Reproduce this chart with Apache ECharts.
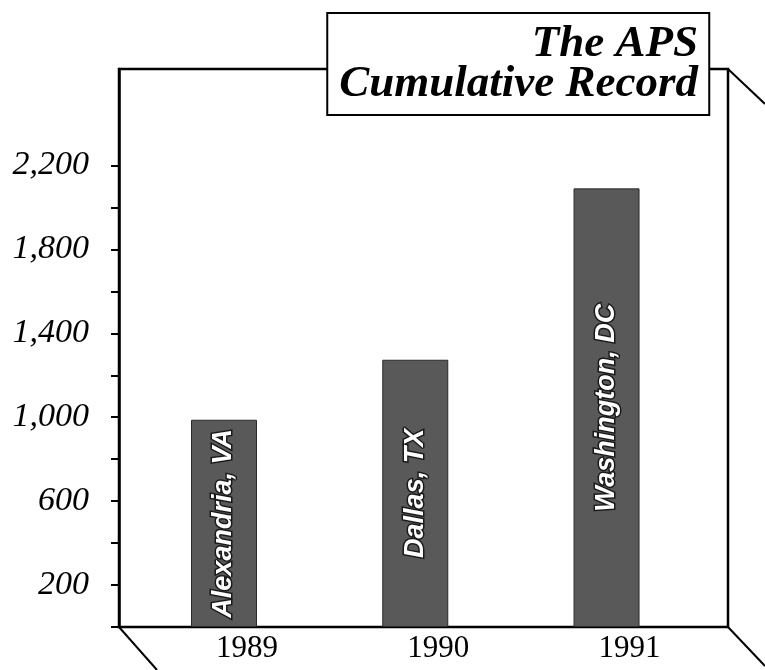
<!DOCTYPE html>
<html>
<head>
<meta charset="utf-8">
<script src="https://cdn.jsdelivr.net/npm/echarts@6/dist/echarts.min.js"></script>
<style>
  html, body { margin: 0; padding: 0; background: #fff; }
  #chart { width: 765px; height: 670px; }
</style>
</head>
<body>
<div id="chart"></div>
<script>
// years on the floor, city written inside each bar, cumulative total
var years = [1989, 1990, 1991];
var cities = ['Alexandria, VA', 'Dallas, TX', 'Washington, DC'];
var totals = [988, 1274, 2091];

// ticks every 200, labels every 400 starting at 200
var tickValues = [0, 200, 400, 600, 800, 1000, 1200, 1400, 1600, 1800, 2000, 2200];
var labelValues = [200, 600, 1000, 1400, 1800, 2200];

var chart = echarts.init(document.getElementById('chart'));

var barData = years.map(function (y, i) { return [y, totals[i]]; });

var option = {
  backgroundColor: '#fff',
  animation: false,
  title: {
    text: '{t|The APS}\n{t|Cumulative Record}',
    right: 55,
    top: 15,
    padding: [9, 12, 9, 12],
    backgroundColor: '#fff',
    borderColor: '#000',
    borderWidth: 2,
    z: 10,
    textStyle: {
      fontFamily: 'Liberation Serif',
      fontStyle: 'italic',
      fontWeight: 'bold',
      fontSize: 45,
      lineHeight: 40,
      color: '#000',
      rich: {
        t: {
          align: 'right',
          fontFamily: 'Liberation Serif',
          fontStyle: 'italic',
          fontWeight: 'bold',
          fontSize: 45,
          lineHeight: 40,
          color: '#000'
        }
      }
    }
  },
  grid: {
    left: 119,
    right: 37,
    top: 69,
    bottom: 43,
    show: true,
    borderColor: '#000',
    borderWidth: 2.5,
    backgroundColor: 'transparent'
  },
  xAxis: {
    type: 'value',
    min: 1988.451,
    max: 1991.635,
    splitLine: { show: false },
    axisLine: { show: false },
    axisTick: { show: false },
    axisLabel: {
      customValues: years,
      margin: 6,
      padding: [0, 0, 0, 46],
      fontFamily: 'Liberation Serif',
      fontSize: 31,
      color: '#000',
      formatter: function (v) { return String(v); }
    }
  },
  yAxis: {
    type: 'value',
    min: 0,
    max: 2660,
    splitLine: { show: false },
    axisLine: { show: true, lineStyle: { color: '#000', width: 2.5 } },
    axisTick: {
      show: true,
      customValues: tickValues,
      length: 8,
      lineStyle: { color: '#000', width: 2 }
    },
    axisLabel: {
      customValues: labelValues,
      margin: 30,
      fontFamily: 'Liberation Serif',
      fontStyle: 'italic',
      fontSize: 34,
      color: '#000',
      formatter: function (v) { return v.toLocaleString('en-US'); }
    }
  },
  series: [
    {
      type: 'bar',
      data: barData,
      barWidth: 66,
      itemStyle: { color: '#595959', borderColor: '#2b2b2b', borderWidth: 1 },
      label: {
        show: true,
        position: 'inside',
        rotate: 90,
        formatter: function (p) { return cities[p.dataIndex]; },
        fontFamily: 'Liberation Sans',
        fontWeight: 'bold',
        fontStyle: 'italic',
        fontSize: 27,
        color: '#fff',
        textBorderColor: '#1a1a1a',
        textBorderWidth: 3
      }
    }
  ],
  // perspective strokes of the floor and back wall
  graphic: [
    { type: 'line', shape: { x1: 728, y1: 69, x2: 765, y2: 104 }, style: { stroke: '#000', lineWidth: 2 } },
    { type: 'line', shape: { x1: 119, y1: 627, x2: 157, y2: 670 }, style: { stroke: '#000', lineWidth: 2 } },
    { type: 'line', shape: { x1: 728, y1: 627, x2: 765, y2: 666 }, style: { stroke: '#000', lineWidth: 2 } }
  ]
};

chart.setOption(option);
</script>
</body>
</html>
